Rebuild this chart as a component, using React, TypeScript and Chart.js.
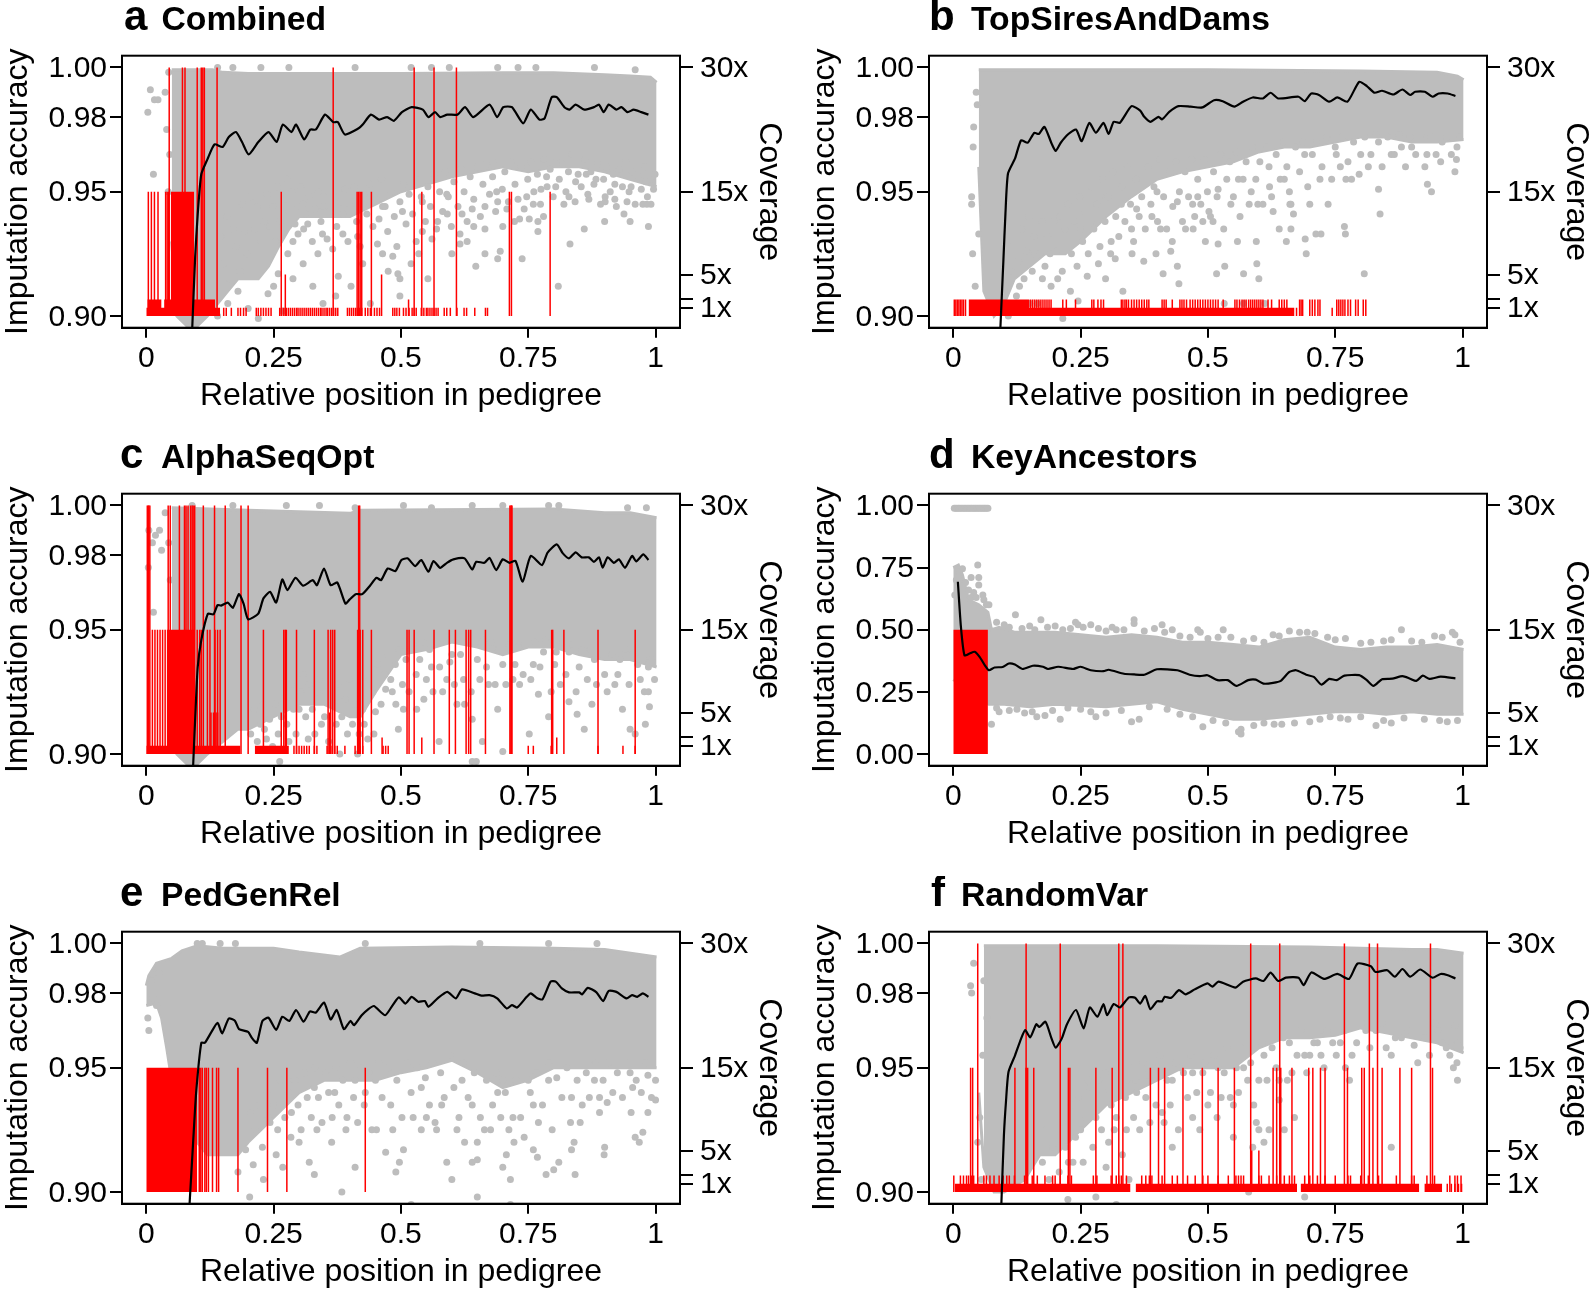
import React, { useEffect, useRef } from "react";
import { Chart, registerables } from "chart.js";

Chart.register(...registerables);

const xTicks = [0, 0.25, 0.5, 0.75, 1];
const xTickLabels = ["0", "0.25", "0.5", "0.75", "1"];
const accTicks = [0.9, 0.95, 0.98, 1];
const accTickLabels = ["0.90", "0.95", "0.98", "1.00"];
const keyTicks = [0, 0.25, 0.5, 0.75, 1];
const keyTickLabels = ["0.00", "0.25", "0.50", "0.75", "1.00"];
const covTicks = [30, 15, 5, 2, 1];
const covTickLabels = ["30x", "15x", "5x", "", "1x"];

const aLineX = [.09,.096,.101,.108,.12,.134,.15,.162,.176,.188,.201,.22,.24,.256,.268,.285,.294,.31,.322,.333,.351,.367,.376,.39,.417,.425,.441,.457,.473,.486,.502,.521,.543,.554,.567,.577,.591,.611,.626,.642,.674,.689,.701,.718,.74,.755,.772,.782,.796,.806,.821,.831,.843,.86,.879,.889,.898,.908,.923,.933,.945,.957,.972,.986];
const aLineY = [.894,.924,.941,.957,.963,.969,.968,.972,.974,.97,.965,.97,.974,.97,.977,.974,.977,.971,.975,.975,.981,.978,.978,.973,.9755,.977,.981,.979,.98,.9785,.982,.984,.983,.98,.982,.98,.981,.981,.984,.98,.985,.98,.984,.984,.9775,.983,.979,.9795,.988,.988,.984,.983,.985,.983,.984,.985,.982,.985,.983,.984,.982,.983,.982,.981];
const bLineX = [.0924,.0984,.1024,.1074,.1213,.1332,.146,.159,.168,.179,.193,.201,.211,.226,.241,.252,.267,.28,.295,.305,.315,.327,.35,.367,.375,.387,.403,.41,.424,.442,.466,.489,.512,.529,.552,.569,.588,.608,.623,.638,.678,.69,.703,.718,.738,.754,.774,.797,.812,.827,.842,.864,.882,.897,.907,.926,.941,.953,.971,.986];
const bLineY = [.8949,.9224,.9412,.9573,.9634,.9707,.9697,.9737,.9732,.9761,.9694,.9664,.9697,.9732,.975,.9703,.9777,.9737,.9777,.9732,.9781,.9777,.9844,.9826,.9801,.9781,.9801,.9791,.9821,.9844,.9842,.9839,.9868,.9864,.9842,.9862,.9879,.9875,.9898,.9875,.9882,.9864,.9895,.9889,.9862,.9879,.9862,.9942,.9925,.9898,.9906,.9891,.9911,.9889,.9902,.9902,.9882,.9895,.9895,.9885];
const cLineX = [.092,.097,.101,.108,.121,.132,.14,.147,.16,.17,.182,.191,.2,.22,.23,.243,.255,.267,.277,.293,.308,.327,.335,.349,.362,.375,.391,.399,.411,.424,.44,.452,.461,.474,.489,.501,.513,.528,.54,.554,.564,.577,.591,.603,.625,.64,.648,.664,.674,.687,.7,.713,.725,.739,.755,.777,.788,.806,.818,.83,.843,.855,.869,.879,.889,.896,.906,.918,.928,.94,.954,.962,.976,.986];
const cLineY = [.8954,.9189,.935,.9458,.9564,.9562,.9599,.9597,.9609,.9588,.9643,.9605,.9542,.9565,.9626,.9652,.9609,.9702,.9659,.9709,.9677,.9699,.9679,.9746,.9679,.969,.9605,.9621,.9643,.9643,.9679,.9709,.9699,.9746,.9736,.978,.9787,.9756,.978,.9733,.9776,.9749,.977,.9783,.9787,.9742,.9773,.9769,.9789,.974,.9783,.9769,.9777,.9693,.9797,.976,.981,.9843,.9807,.9787,.9811,.9791,.9791,.9773,.9791,.975,.9791,.9769,.9783,.9749,.9797,.9775,.9803,.978];
const dLineX = [.009,.015,.022,.032,.042,.052,.062,.07,.081,.097,.109,.121,.136,.156,.176,.186,.206,.235,.25,.27,.295,.305,.335,.355,.375,.4,.44,.464,.484,.499,.519,.539,.556,.579,.594,.609,.628,.643,.66,.673,.693,.708,.723,.738,.753,.768,.797,.812,.825,.842,.862,.882,.897,.909,.922,.935,.957,.986];
const dLineY = [.693,.511,.397,.404,.411,.39,.357,.337,.348,.35,.364,.36,.342,.355,.351,.342,.351,.342,.351,.337,.333,.339,.323,.32,.319,.341,.337,.319,.313,.317,.297,.297,.274,.297,.299,.283,.286,.294,.33,.337,.319,.31,.279,.302,.297,.315,.317,.297,.274,.301,.303,.313,.303,.294,.315,.302,.311,.304];
const eLineX = [.085,.092,.098,.108,.115,.128,.14,.149,.162,.174,.182,.2,.207,.217,.228,.24,.255,.267,.281,.294,.309,.321,.333,.349,.362,.374,.388,.401,.408,.423,.435,.447,.469,.484,.496,.509,.521,.534,.547,.554,.572,.591,.608,.62,.645,.658,.674,.689,.708,.718,.728,.747,.755,.768,.778,.794,.804,.816,.83,.85,.856,.867,.884,.897,.908,.923,.943,.954,.964,.975,.986];
const eLineY = [.8953,.9201,.9403,.96,.96,.9644,.968,.9638,.9698,.9689,.9655,.9644,.9621,.96,.9688,.9701,.9652,.9705,.9688,.9732,.9685,.9726,.9722,.9762,.9694,.9732,.9655,.9688,.9671,.9711,.9734,.9748,.9711,.9752,.9783,.9758,.9785,.9765,.9768,.9745,.9779,.9805,.9779,.9815,.9799,.979,.9792,.9779,.9738,.9752,.9742,.9785,.9799,.9779,.9775,.9846,.9846,.9819,.9803,.9803,.9795,.9821,.9803,.9768,.9809,.9805,.9779,.9792,.9785,.9799,.9785];
const fLineX = [.0944,.0994,.1034,.1084,.1213,.1332,.1412,.151,.163,.169,.181,.193,.201,.213,.223,.241,.256,.268,.283,.295,.302,.315,.327,.345,.357,.367,.377,.387,.4,.41,.415,.428,.443,.456,.474,.499,.509,.521,.554,.569,.594,.609,.623,.638,.653,.678,.688,.703,.728,.754,.777,.794,.82,.829,.852,.867,.882,.897,.917,.941,.957,.971,.986];
const fLineY = [.8953,.9228,.9362,.9483,.955,.9617,.9651,.9622,.9675,.9664,.9685,.9617,.9581,.9617,.9674,.9732,.9658,.9742,.9705,.9756,.9711,.9756,.9742,.9783,.9781,.9758,.9789,.9735,.9767,.9767,.9785,.9781,.9812,.9795,.9815,.9839,.9826,.9846,.9822,.9846,.9859,.9849,.9882,.9849,.9862,.9862,.9832,.9883,.9857,.9877,.9857,.9919,.9908,.9885,.9892,.9866,.9897,.9866,.9895,.9862,.9877,.9872,.9859];

const aTopX = [.05,.13,.15,.2,.5,.7,.8,.9,.95,.99,1.002];
const aTopY = [.999,.999,.998,.9975,.9975,.9978,.9978,.997,.9965,.996,.994];
const aBotX = [.05,.06,.08,.1,.12,.14,.16,.18,.2,.22,.24,.26,.28,.3,.35,.4,.45,.5,.55,.6,.65,.7,.75,.8,.85,.9,.95,1.002];
const aBotY = [.93,.9,.896,.896,.9,.905,.91,.915,.915,.915,.92,.928,.935,.94,.94,.94,.945,.95,.953,.956,.958,.96,.958,.96,.96,.958,.955,.952];
const bTopX = [.05,.5,.8,.95,.99,1.002];
const bTopY = [.999,.999,.9985,.998,.9965,.995];
const bBotX = [.05,.06,.08,.1,.12,.15,.18,.2,.22,.25,.3,.35,.4,.45,.5,.55,.6,.65,.7,.75,.8,.85,.9,.95,1.002];
const bBotY = [.96,.91,.9,.905,.915,.92,.925,.925,.925,.93,.94,.948,.955,.958,.96,.962,.966,.968,.968,.97,.972,.972,.97,.97,.971];
const cTopX = [.05,.2,.4,.42,.8,.9,.95,1.002];
const cTopY = [.999,.998,.9968,.998,.9985,.997,.997,.995];
const cBotX = [.05,.06,.08,.1,.12,.15,.18,.2,.25,.3,.35,.4,.42,.45,.5,.55,.6,.65,.7,.75,.8,.85,.9,.95,1.002];
const cBotY = [.94,.9,.896,.896,.9,.905,.91,.91,.915,.92,.92,.915,.915,.925,.94,.942,.945,.943,.94,.943,.943,.94,.938,.938,.935];
const dTopX = [.0,.01,.018,.03,.05,.068,.075,.09,.12,.15,.2,.25,.3,.35,.4,.45,.5,.55,.6,.65,.7,.75,.8,.85,.9,.95,1.002];
const dTopY = [.75,.76,.72,.62,.6,.57,.5,.51,.49,.49,.49,.48,.47,.48,.47,.45,.45,.44,.43,.46,.47,.43,.42,.43,.43,.44,.42];
const dBotX = [.0,.07,.1,.15,.2,.3,.4,.45,.5,.55,.6,.65,.7,.75,.8,.85,.9,.95,1.002];
const dBotY = [.3,.2,.2,.19,.2,.19,.21,.18,.16,.14,.14,.15,.16,.17,.17,.16,.17,.16,.16];
const eTopX = [.0,.005,.02,.05,.07,.1,.15,.25,.3,.38,.42,.6,.8,.9,1.002];
const eTopY = [.983,.987,.992,.994,.997,.999,.998,.998,.9965,.9945,.998,.9985,.998,.9975,.9945];
const eBotX = [.0,.02,.03,.04,.05,.07,.09,.1,.12,.15,.18,.2,.25,.3,.35,.4,.45,.5,.55,.6,.65,.7,.75,.8,.85,.9,.95,1.002];
const eBotY = [.975,.976,.97,.958,.945,.93,.925,.92,.915,.915,.915,.92,.93,.94,.945,.945,.945,.948,.95,.953,.948,.942,.945,.95,.95,.95,.95,.95];
const fTopX = [.06,.4,.7,.9,.95,1.002];
const fTopY = [.999,.999,.9985,.9975,.9975,.996];
const fBotX = [.05,.06,.08,.1,.14,.17,.2,.25,.3,.35,.4,.45,.5,.55,.6,.65,.7,.75,.8,.85,.9,.95,1.002];
const fBotY = [.94,.91,.9,.9,.905,.915,.915,.925,.935,.94,.945,.95,.95,.95,.958,.962,.962,.963,.966,.964,.962,.96,.956];

// Individually read dots, [x, y] in thousandths.
const aDots = [[3,982],[8,991],[16,987],[23,987],[14,957],[37,990],[44,998],[40,975],[46,965],[43,950],[140,1000],[170,1000],[225,1000],[280,1000],[410,1000],[520,1000],[560,1000],[595,1000],[690,1000],[730,1000],[765,1000],[880,1000],[960,999],[986,936],[938,941],[991,945],[983,945],[901,946],[901,948],[869,947],[944,946],[832,929],[809,912],[769,934],[769,938],[738,923],[752,939],[733,939],[723,938],[695,926],[690,923],[647,920],[643,936],[665,935],[616,933],[616,929],[494,917],[498,915],[498,908],[425,921],[377,916],[298,933],[288,930],[317,937],[337,925],[346,933],[366,927],[386,933],[415,932],[454,929],[464,925],[484,924],[542,934],[561,931],[572,938],[591,941],[620,941],[640,943],[665,944],[690,946],[708,943],[747,948],[775,951],[804,952],[843,954],[883,955],[920,953],[952,952],[981,954],[864,957],[786,956],[688,950],[590,949],[542,946],[503,942],[464,944],[425,945],[386,941],[347,944],[308,945],[278,925],[259,917],[239,909],[200,903],[220,899],[250,912],[268,902],[288,915],[308,921],[327,912],[347,905],[372,908],[402,912],[440,905],[475,918],[520,921],[553,915],[600,925],[665,925],[780,940],[820,945],[860,935],[900,938],[950,938],[975,945],[920,947],[830,948],[760,945],[700,936],[630,930],[530,930],[160,905],[140,900],[180,910],
[146,932],[152,921],[158,940],[163,915],[171,935],[176,928],[184,918],[189,945],[193,934],[198,925],[205,948],[212,935],[218,944],[226,930],[231,938],[237,949],[243,936],[249,944],[254,930],[258,952],[263,938],[272,947],[276,955],[281,942],[286,950],[292,937],[297,944],[303,952],[309,935],[313,941],[320,948],[326,930],[331,943],[338,950],[343,938],[349,948],[355,931],[360,942],[368,950],[374,936],[381,946],[390,951],[396,930],[401,944],[408,952],[413,938],[420,928],[427,949],[433,941],[438,953],[445,936],[451,947],[457,939],[462,955],[469,944],[474,934],[480,950],[487,940],[492,928],[498,946],[505,953],[510,937],[516,949],[523,941],[529,955],[535,925],[540,948],[548,938],[553,952],[558,944],[565,957],[570,935],[576,950],[582,942],[587,958],[593,948],[599,936],[604,954],[612,944],[618,959],[624,950],[630,938],[636,956],[643,947],[650,960],[656,940],[661,953],[668,961],[674,949],[680,956],[686,942],[693,963],[699,951],[704,958],[711,946],[716,962],[724,953],[730,947],[736,960],[742,943],[749,955],[755,962],[761,950],[768,957],[774,945],[781,963],[787,952],[793,959],[799,948],[805,964],[811,955],[817,961],[824,950],[829,958],[836,965],[842,946],[848,957],[854,952],[861,963],[867,949],[873,958],[879,953],[886,961],[892,945],[898,955],[904,960],[911,950],[917,957],[923,944],[929,959],[935,952],[941,962],[948,950],[954,958],[960,945],[966,956],[972,951],[978,960],[984,948],[990,955],[996,951],[999,957]];
const bDots = [[36,948],[36,945],[40,976],[38,925],[39,968],[47,985],[45,990],[43,912],[44,903],[50,933],[215,899],[245,906],[263,916],[285,921],[299,915],[318,923],[333,910],[351,925],[374,922],[398,925],[407,935],[412,917],[427,926],[443,913],[440,920],[456,935],[471,935],[495,930],[490,938],[502,942],[517,917],[520,929],[532,905],[533,920],[558,930],[570,917],[570,905],[596,921],[600,915],[595,930],[612,905],[598,945],[640,935],[654,930],[663,935],[693,925],[691,931],[770,933],[768,936],[722,933],[712,933],[663,945],[668,941],[650,955],[700,945],[736,945],[771,955],[838,941],[835,951],[807,917],[782,955],[800,965],[860,965],[931,953],[939,950],[957,962],[985,958],[989,968],[988,963],[930,965],[880,968],[835,970],[750,968],[690,965],[620,960],[560,955],[520,951],[480,948],[440,946],[400,950],[360,943],[330,945],[300,948],[270,938],[250,935],[310,930],[350,935],[390,940],[430,930],[470,945],[510,938],[545,945],[585,950],[625,948],[660,950],[720,955],[760,960],[815,960],[900,968],[960,970],[230,910],[205,915],[175,915],[150,905],[130,912],[120,905],[160,925],[190,925],
[102,912],[108,900],[113,918],[118,930],[124,908],[128,922],[134,935],[139,915],[144,926],[149,940],[155,918],[159,932],[165,905],[170,925],[174,938],[180,920],[185,932],[192,912],[197,938],[203,926],[209,940],[214,918],[219,935],[225,945],[232,925],[237,938],[243,920],[248,948],[254,930],[259,942],[265,925],[271,952],[276,935],[282,945],[288,928],[293,955],[298,938],[304,948],[309,925],[314,958],[319,940],[325,932],[331,952],[337,938],[342,960],[348,945],[354,930],[359,955],[365,940],[370,948],[377,935],[382,960],[388,945],[394,952],[401,938],[406,963],[413,948],[419,935],[425,958],[431,944],[437,962],[444,950],[450,938],[455,958],[462,948],[468,963],[474,940],[480,955],[486,945],[492,963],[499,950],[505,940],[511,958],[518,948],[525,965],[531,935],[537,955],[543,962],[550,948],[556,966],[563,940],[569,955],[575,962],[581,945],[588,968],[594,955],[602,962],[608,945],[615,968],[621,952],[628,942],[634,965],[642,955],[648,970],[655,960],[661,945],[672,968],[680,958],[687,970],[696,952],[705,965],[713,970],[724,960],[733,972],[743,955],[752,965],[764,972],[775,962],[786,970],[797,957],[808,972],[820,965],[829,973],[842,960],[853,972],[866,965],[875,973],[888,960],[897,972],[908,965],[918,973],[926,960],[938,972],[948,965],[968,972],[978,965],[994,972]];
const cDots = [[5,990],[12,985],[18,988],[26,990],[14,957],[4,975],[30,982],[37,997],[44,985],[47,970],[90,1000],[170,1000],[275,1000],[340,1000],[410,999],[505,1000],[560,999],[640,1000],[700,1000],[790,1000],[810,1000],[945,999],[982,999],[986,925],[988,919],[986,935],[975,938],[980,912],[950,910],[935,918],[920,928],[900,932],[875,920],[860,910],[846,916],[830,921],[813,928],[805,941],[790,915],[770,924],[752,908],[740,932],[720,930],[700,936],[690,918],[672,928],[650,938],[640,914],[625,920],[605,928],[590,930],[575,905],[560,935],[545,922],[530,932],[505,918],[495,910],[490,920],[470,926],[450,917],[435,906],[425,918],[405,912],[380,900],[395,908],[350,915],[335,925],[318,906],[300,918],[280,905],[262,897],[248,903],[232,910],[600,940],[680,943],[730,943],[780,941],[830,941],[880,938],[930,938],[965,936],[520,942],[480,930],[445,925],[415,900],[373,912],[640,897],[648,897],[700,901],[960,908],[850,935],[760,936],[660,905],
[205,908],[212,918],[218,905],[224,912],[230,920],[236,906],[242,914],[254,920],[259,908],[265,915],[270,922],[276,912],[284,928],[289,918],[294,908],[303,925],[308,932],[313,915],[320,928],[326,918],[331,908],[339,930],[344,912],[352,925],[358,905],[363,932],[369,920],[376,928],[384,915],[391,922],[398,930],[408,920],[418,908],[428,912],[438,930],[447,908],[455,936],[461,920],[468,932],[475,940],[483,925],[489,936],[496,942],[503,928],[510,938],[516,925],[523,944],[531,918],[537,938],[543,945],[550,930],[556,942],[563,925],[570,945],[576,935],[582,925],[589,946],[596,937],[603,948],[610,920],[617,940],[623,930],[632,946],[638,925],[646,945],[655,930],[662,946],[668,935],[677,945],[685,928],[693,942],[706,928],[712,944],[724,936],[733,928],[744,944],[755,930],[763,945],[773,935],[784,946],[795,925],[802,936],[817,945],[824,932],[838,944],[844,925],[855,942],[866,930],[872,942],[884,928],[893,940],[905,925],[914,940],[926,932],[940,942],[948,928],[955,940],[970,930],[978,925],[992,938],[998,930]];
const dDots = [[2,988],[5,988],[8,988],[11,988],[14,988],[17,988],[20,988],[23,988],[26,988],[29,988],[32,988],[35,988],[38,988],[41,988],[44,988],[47,988],[50,988],[53,988],[56,988],[59,988],[62,988],[65,988],[68,988],[48,760],[35,710],[50,710],[50,680],[35,630],[60,620],[70,600],[122,560],[172,540],[240,530],[245,520],[270,520],[320,500],[355,540],[355,525],[410,520],[430,500],[485,490],[480,500],[530,500],[628,480],[695,490],[880,500],[980,490],[985,480],[164,150],[180,155],[210,140],[280,150],[350,130],[365,140],[490,110],[565,80],[565,100],[560,90],[830,115],[645,120],[75,120],[90,170],[125,180],[700,130],[860,125],[990,135],[970,130],[775,140],
[6,700],[12,730],[18,745],[24,690],[30,660],[40,650],[45,630],[58,640],[65,600],[3,640],[8,660],[85,530],[100,520],[110,510],[135,505],[150,515],[160,500],[185,510],[200,515],[215,500],[230,505],[255,510],[285,505],[300,495],[312,510],[335,500],[375,495],[395,505],[415,490],[445,475],[465,470],[500,465],[520,470],[545,470],[570,455],[590,465],[610,450],[640,475],[660,495],[680,490],[710,485],[735,470],[750,460],[770,465],[800,445],[820,450],[845,455],[860,460],[900,455],[920,450],[945,475],[960,470],[995,450],[85,185],[110,175],[140,165],[155,170],[195,175],[225,185],[250,180],[270,170],[300,165],[330,175],[385,190],[420,180],[445,160],[470,150],[510,135],[535,125],[590,115],[610,125],[630,120],[670,125],[720,140],[740,150],[760,145],[800,150],[845,135],[885,145],[925,140],[955,135]];
const eDots = [[5,965],[3,970],[10,985],[20,975],[13,978],[25,988],[175,1000],[100,1000],[110,1000],[145,1000],[430,1000],[655,1000],[790,1000],[885,1000],[1000,945],[1000,937],[985,932],[975,924],[960,922],[968,920],[955,942],[905,936],[890,938],[840,920],[835,917],[900,918],[899,915],[880,945],[856,935],[835,938],[770,928],[768,914],[760,917],[800,909],[785,907],[722,920],[707,915],[690,940],[680,935],[625,920],[664,925],[650,920],[640,912],[610,925],[590,912],[567,928],[550,930],[524,930],[505,917],[490,908],[520,895],[497,912],[470,916],[452,925],[430,940],[410,910],[384,900],[392,925],[365,930],[335,925],[320,912],[330,907],[300,920],[285,932],[268,910],[255,915],[240,930],[230,905],[210,911],[203,898],[180,908],[195,917],[842,907],[650,898],[700,910],[715,905],[760,935],[810,912],[720,930],[640,935],[580,935],[540,942],[480,935],[450,945],[410,945],[370,940],[330,942],[290,945],[790,945],[700,945],[950,948],[985,947],[620,945],[750,945],[715,895],[650,913],[600,905],
[205,932],[214,925],[222,935],[228,918],[236,940],[243,928],[250,935],[258,925],[263,945],[272,930],[278,940],[284,922],[292,945],[298,935],[304,925],[311,948],[316,938],[324,930],[331,950],[338,938],[345,928],[352,948],[358,940],[364,920],[372,950],[378,935],[386,945],[394,930],[401,952],[407,938],[415,928],[422,950],[428,935],[437,948],[443,925],[456,952],[463,938],[476,950],[484,925],[492,945],[502,930],[512,952],[520,940],[532,950],[540,925],[548,946],[556,935],[562,952],[570,925],[578,948],[585,938],[596,955],[604,942],[614,930],[622,952],[632,938],[644,948],[656,930],[668,945],[676,925],[688,948],[696,930],[705,940],[712,925],[726,945],[735,930],[742,922],[754,940],[766,948],[778,935],[790,952],[797,925],[806,946],[816,938],[826,950],[833,928],[846,945],[852,928],[864,948],[870,938],[882,952],[890,932],[897,945],[908,952],[916,940],[925,948],[935,938],[942,952],[952,932],[962,945],[972,940],[980,952],[992,938]];
const fDots = [[36,980],[40,992],[34,983],[60,985],[66,970],[58,955],[52,930],[48,920],[55,905],[990,945],[989,952],[985,967],[990,960],[960,960],[975,955],[945,968],[925,962],[905,959],[880,962],[860,955],[850,958],[830,965],[783,955],[770,950],[745,960],[728,950],[715,960],[690,955],[665,948],[640,945],[640,937],[600,945],[595,928],[600,925],[588,918],[610,920],[620,925],[590,935],[560,940],[550,935],[550,922],[526,938],[500,935],[490,948],[470,930],[445,950],[430,945],[410,932],[380,947],[360,940],[340,925],[320,930],[295,940],[280,930],[265,945],[250,925],[235,912],[220,918],[300,910],[345,905],[305,920],[430,918],[860,918],[690,898],[320,895],[280,898],[225,897],[700,955],[760,960],[610,955],[520,950],[470,948],[400,950],[340,945],[810,965],[720,965],[660,960],[570,950],[670,930],[650,925],[580,900],
[175,912],[182,925],[188,905],[195,918],[208,908],[214,928],[226,912],[232,935],[240,922],[246,938],[255,912],[261,930],[268,942],[274,918],[285,945],[291,925],[298,948],[310,935],[316,925],[325,948],[332,915],[338,938],[347,950],[354,930],[358,945],[366,925],[372,952],[378,938],[386,928],[392,950],[398,935],[406,955],[414,928],[420,945],[426,935],[436,952],[442,925],[452,948],[460,938],[466,955],[478,940],[484,925],[494,952],[505,940],[512,955],[518,930],[532,948],[538,958],[544,938],[556,950],[565,958],[578,945],[584,952],[606,960],[616,945],[626,958],[634,950],[648,962],[656,945],[675,955],[682,965],[694,948],[708,960],[722,955],[735,965],[752,955],[768,965],[778,945],[792,960],[802,968],[818,958],[842,968],[868,962],[892,965],[912,952],[935,955],[952,965],[968,958],[982,950],[995,958]];

const aRug30 = [.045,.071,.076,.1,.108,.111,.114,.139,.367,.526,.565,.609];
const aRug15 = [.004,.01,.016,.023,.038,.041,.044,.265,.414,.417,.42,.423,.442,.541,.713,.717,.793];
const aRug5 = [.273,.462];
const aRug2 = [.515];
const aRug1 = [.152,.157,.167,.18,.185,.191,.196,.216,.22,.225,.23,.235,.24,.245,.262,.266,.27,.275,.279,.283,.287,.291,.295,.298,.302,.306,.31,.314,.318,.322,.326,.33,.334,.338,.342,.345,.349,.353,.356,.36,.364,.368,.372,.376,.395,.399,.403,.407,.411,.415,.419,.423,.43,.435,.44,.448,.453,.458,.484,.488,.492,.497,.505,.51,.516,.522,.526,.53,.54,.545,.55,.553,.557,.561,.565,.569,.573,.585,.59,.597,.61,.624,.629,.645,.666,.67];
const aBlockX0 = [.048,.002,.035,0];
const aBlockX1 = [.094,.03,.135,.145];
const aBlockH = [15,2,2,1];

const bRug30: number[] = [];
const bRug15: number[] = [];
const bRug5: number[] = [];
const bRug2 = [.002,.005,.008,.011,.014,.017,.02,.024,.152,.156,.16,.164,.168,.172,.176,.18,.184,.188,.192,.215,.222,.24,.272,.276,.284,.29,.295,.33,.333,.337,.34,.344,.35,.355,.36,.365,.37,.375,.38,.384,.41,.414,.418,.43,.445,.449,.453,.458,.465,.47,.475,.48,.485,.49,.495,.5,.505,.51,.515,.52,.53,.553,.557,.562,.567,.571,.575,.58,.584,.588,.592,.596,.6,.604,.608,.618,.625,.64,.645,.65,.655,.68,.683,.686,.7,.705,.71,.716,.72,.753,.757,.761,.765,.769,.775,.78,.79,.795,.805,.81];
const bRug1 = [.674,.744];
const bBlockX0 = [.03,.035];
const bBlockX1 = [.15,.67];
const bBlockH = [2,1];

const cRug30 = [.002,.004,.005,.007,.043,.047,.065,.075,.078,.082,.087,.09,.092,.095,.112,.134,.155,.186,.2,.417,.419,.714,.716,.717,.718];
const cRug15 = [.012,.017,.022,.027,.032,.037,.1,.105,.108,.12,.125,.135,.14,.145,.23,.27,.273,.275,.295,.33,.357,.362,.366,.37,.415,.42,.425,.442,.512,.516,.526,.565,.595,.607,.628,.633,.637,.666,.796,.798,.82,.887,.96];
const cRug5 = [.265,.127,.132,.137,.14,.36];
const cRug2 = [.463,.541,.806];
const cRug1 = [.29,.295,.3,.305,.31,.315,.32,.33,.335,.355,.36,.365,.37,.375,.39,.41,.42,.425,.465,.47,.475,.75,.76,.795,.936,.96,.887];
const cBlockX0 = [.04,0,.213];
const cBlockX1 = [.095,.185,.28];
const cBlockH = [15,1,1];

const dBlockX0 = [0];
const dBlockX1 = [.068];
const dBlockH = [15];

const eRug15 = [.104,.107,.11,.115,.118,.122,.13,.138,.142,.18,.238,.276,.43];
const eBlockX0 = [0];
const eBlockX1 = [.1];
const eBlockH = [15];

const fRug30 = [.048,.143,.21,.325,.333,.584,.641,.768,.817,.833,.937];
const fRug15 = [.034,.038,.121,.143,.146,.158,.226,.229,.28,.312,.387,.403,.415,.451,.489,.52,.552,.628,.635,.643,.665,.698,.706,.721,.73,.774,.802,.807,.824,.842,.877,.9,.941];
const fRug5 = [.586,.6];
const fRug2 = [.001,.014,.02,.026,.03,.036,.04,.06,.065,.072,.08,.09,.098,.105,.11,.12,.14,.145,.155,.165,.18,.195,.2,.21,.225,.232,.275,.282,.31,.32,.325,.33,.34,.37,.378,.385,.39,.41,.43,.44,.46,.475,.49,.5,.52,.54,.555,.56,.565,.57,.585,.6,.605,.62,.635,.65,.66,.67,.69,.7,.715,.73,.75,.775,.78,.8,.815,.835,.87,.9,.905,.93,.945,.975,.985,.99,.997];
const fRug1 = [.97,.978,.985,.992,.998];
const fBlockX0 = [.003,.358,.682,.925];
const fBlockX1 = [.348,.675,.915,.96];
const fBlockH = [1,1,1,1];

const none: number[] = [];
const FONT = '"Liberation Sans", Arial, sans-serif';
const GRAY = "#bdbdbd";
const RED = "#ff0000";

const pairs = (xs: number[], ys: number[]) => xs.map((x, i) => ({ x, y: ys[i] }));

const panels = [
  { letter: "a", name: "Combined", lx: 124, nx: 161.5, base: 30, left: 0, top: 0, line: [aLineX, aLineY], envT: [aTopX, aTopY], envB: [aBotX, aBotY], dots: aDots, rugs: [[30, aRug30], [15, aRug15], [5, aRug5], [2, aRug2], [1, aRug1]], blocks: [aBlockX0, aBlockX1, aBlockH], key: false },
  { letter: "b", name: "TopSiresAndDams", lx: 122, nx: 164, base: 30, left: 807, top: 0, line: [bLineX, bLineY], envT: [bTopX, bTopY], envB: [bBotX, bBotY], dots: bDots, rugs: [[30, bRug30], [15, bRug15], [5, bRug5], [2, bRug2], [1, bRug1]], blocks: [bBlockX0, bBlockX1, bBlockH], key: false },
  { letter: "c", name: "AlphaSeqOpt", lx: 120, nx: 161, base: 29.5, left: 0, top: 437.6, line: [cLineX, cLineY], envT: [cTopX, cTopY], envB: [cBotX, cBotY], dots: cDots, rugs: [[30, cRug30], [15, cRug15], [5, cRug5], [2, cRug2], [1, cRug1]], blocks: [cBlockX0, cBlockX1, cBlockH], key: false },
  { letter: "d", name: "KeyAncestors", lx: 122, nx: 164, base: 29.5, left: 807, top: 437.6, line: [dLineX, dLineY], envT: [dTopX, dTopY], envB: [dBotX, dBotY], dots: dDots, rugs: [[15, none]], blocks: [dBlockX0, dBlockX1, dBlockH], key: true },
  { letter: "e", name: "PedGenRel", lx: 120, nx: 161, base: 30, left: 0, top: 876, line: [eLineX, eLineY], envT: [eTopX, eTopY], envB: [eBotX, eBotY], dots: eDots, rugs: [[15, eRug15]], blocks: [eBlockX0, eBlockX1, eBlockH], key: false },
  { letter: "f", name: "RandomVar", lx: 124, nx: 154, base: 30, left: 807, top: 876, line: [fLineX, fLineY], envT: [fTopX, fTopY], envB: [fBotX, fBotY], dots: fDots, rugs: [[30, fRug30], [15, fRug15], [5, fRug5], [2, fRug2], [1, fRug1]], blocks: [fBlockX0, fBlockX1, fBlockH], key: false },
];

const framePlugin = {
  id: "panelFrame",
  afterDraw(chart: any, _a: any, opts: any) {
    const { ctx, chartArea: c } = chart;
    ctx.save();
    ctx.strokeStyle = "#000";
    ctx.lineWidth = 2;
    ctx.strokeRect(c.left, c.top, c.right - c.left, c.bottom - c.top);
    ctx.fillStyle = "#000";
    ctx.textBaseline = "alphabetic";
    ctx.textAlign = "left";
    ctx.font = `bold 42px ${FONT}`;
    ctx.fillText(opts.letter, opts.lx, opts.base);
    ctx.font = `bold 33.7px ${FONT}`;
    ctx.fillText(opts.name, opts.nx, opts.base);
    ctx.restore();
  },
};

function makeConfig(p: any) {
  const datasets: any[] = [];
  datasets.push({ type: "line", data: pairs(p.envT[0], p.envT[1]), yAxisID: "y", backgroundColor: GRAY, borderColor: GRAY, borderWidth: 3, pointRadius: 0, tension: 0, fill: "+1", order: 6 });
  datasets.push({ type: "line", data: pairs(p.envB[0], p.envB[1]), yAxisID: "y", borderColor: GRAY, borderWidth: 3, pointRadius: 0, tension: 0, fill: false, order: 6 });
  datasets.push({ type: "scatter", data: p.dots.map((d: number[]) => ({ x: d[0] / 1000, y: d[1] / 1000 })), yAxisID: "y", backgroundColor: GRAY, borderWidth: 0, pointRadius: 3.5, order: 5 });
  p.blocks[0].forEach((x0: number, i: number) => {
    const h = p.blocks[2][i];
    datasets.push({ type: "line", data: [{ x: x0, y: h }, { x: p.blocks[1][i], y: h }], yAxisID: "cov", backgroundColor: RED, borderWidth: 0, pointRadius: 0, fill: "origin", order: 4 });
  });
  p.rugs.forEach(([h, xs]: any) => {
    if (xs.length) datasets.push({ type: "bar", data: xs.map((x: number) => ({ x, y: h })), yAxisID: "cov", backgroundColor: RED, barThickness: 1.5, inflateAmount: 0, grouped: false, order: 3 });
  });
  datasets.push({ type: "line", data: pairs(p.line[0], p.line[1]), yAxisID: "y", borderColor: "#000", borderWidth: 2.2, pointRadius: 0, tension: 0.2, fill: false, order: 1 });

  const yTicks = p.key ? keyTicks : accTicks;
  const yLabels = p.key ? keyTickLabels : accTickLabels;
  const yMin = p.key ? -0.047 : 0.8953;
  const yMax = p.key ? 1.047 : 1.0047;
  const tickFont = { family: FONT, size: 30 };
  const titleFont = { family: FONT, size: 32, lineHeight: 1 };
  const tickGrid = (len: number) => ({ drawOnChartArea: false, drawTicks: true, tickLength: len, tickColor: "#000", tickWidth: 2, color: "#000", lineWidth: 2, offset: false });

  return {
    type: "scatter",
    data: { datasets },
    plugins: [framePlugin],
    options: {
      animation: false,
      responsive: false,
      layout: { padding: { top: 55.7, left: 0, right: 0, bottom: 0 } },
      plugins: {
        legend: { display: false },
        tooltip: { enabled: false },
        title: { display: false },
        panelFrame: { letter: p.letter, name: p.name, lx: p.lx, nx: p.nx, base: p.base },
      },
      scales: {
        x: {
          type: "linear", position: "bottom", offset: false, min: -0.0477, max: 1.048,
          afterFit: (s: any) => { s.height = 88.3; },
          afterBuildTicks: (s: any) => { s.ticks = xTicks.map((value) => ({ value })); },
          ticks: { font: tickFont, color: "#000", padding: 3, autoSkip: false, maxRotation: 0, callback: (v: number) => xTickLabels[xTicks.indexOf(v)] },
          grid: tickGrid(10), border: { display: true, color: "#000", width: 2 },
          title: { display: true, text: "Relative position in pedigree", color: "#000", font: titleFont, padding: 4 },
        },
        y: {
          type: "linear", position: "left", min: yMin, max: yMax,
          afterFit: (s: any) => { s.width = 122; },
          afterBuildTicks: (s: any) => { s.ticks = yTicks.map((value: number) => ({ value })); },
          ticks: { font: tickFont, color: "#000", padding: 3, autoSkip: false, labelOffset: 1.5, callback: (v: number) => yLabels[yTicks.indexOf(v)] },
          grid: tickGrid(12), border: { display: true, color: "#000", width: 2 },
          title: { display: true, text: "Imputation accuracy", color: "#000", font: titleFont, padding: 2 },
        },
        cov: {
          type: "linear", position: "right", min: -1.41, max: 31.41,
          afterFit: (s: any) => { s.width = 105; },
          afterBuildTicks: (s: any) => { s.ticks = covTicks.map((value) => ({ value })); },
          ticks: { font: tickFont, color: "#000", padding: 7, autoSkip: false, labelOffset: 1.5, callback: (v: number) => covTickLabels[covTicks.indexOf(v)] },
          grid: tickGrid(13), border: { display: true, color: "#000", width: 2 },
          title: { display: true, text: "Coverage", color: "#000", font: titleFont, padding: 0 },
        },
      },
    },
  } as any;
}

function Panel({ p }: { p: any }) {
  const ref = useRef<HTMLCanvasElement | null>(null);
  useEffect(() => {
    const chart = new Chart(ref.current as HTMLCanvasElement, makeConfig(p));
    return () => chart.destroy();
  }, [p]);
  return (
    <canvas
      ref={ref}
      width={785}
      height={416}
      style={{ position: "absolute", left: p.left, top: p.top, width: 785, height: 416 }}
    />
  );
}

export default function App() {
  return (
    <div style={{ position: "absolute", left: 0, top: 0, width: 1595, height: 1292, overflow: "hidden", background: "#fff" }}>
      {panels.map((p) => (
        <Panel key={p.letter} p={p} />
      ))}
    </div>
  );
}
